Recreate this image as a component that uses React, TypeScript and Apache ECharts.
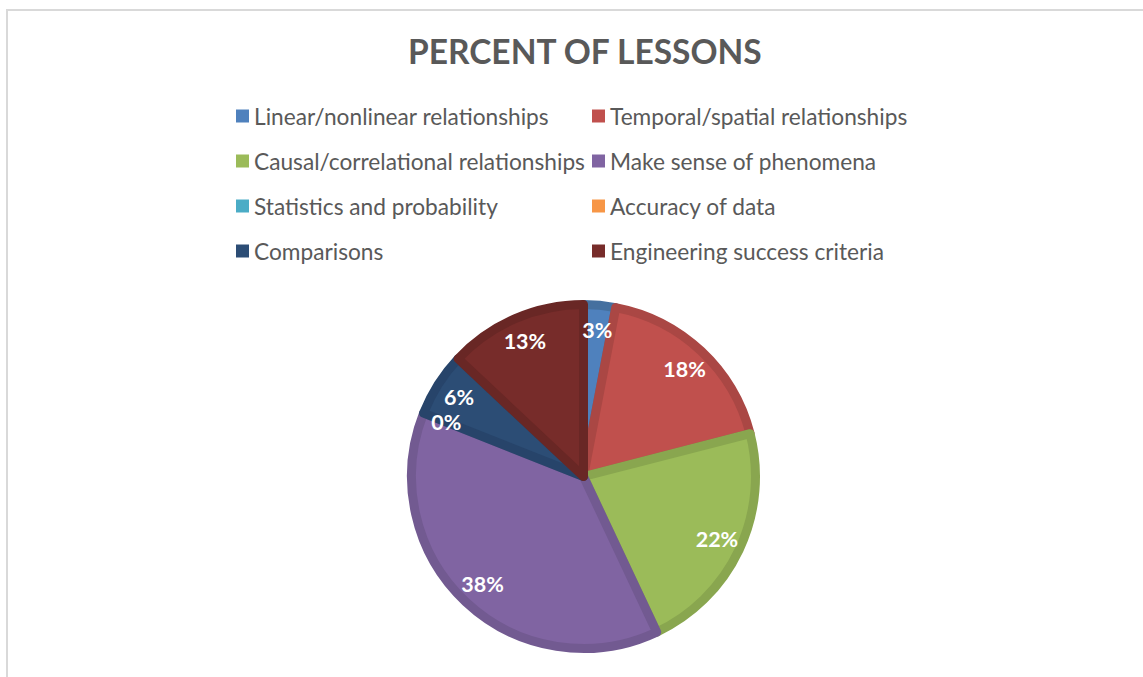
import React, { useEffect, useRef } from "react";
import * as echarts from "echarts";

const categories = [
  "Linear/nonlinear relationships",
  "Temporal/spatial relationships",
  "Causal/correlational relationships",
  "Make sense of phenomena",
  "Statistics and probability",
  "Accuracy of data",
  "Comparisons",
  "Engineering success criteria",
];
const percents = [3, 18, 22, 38, 0, 0, 6, 13];
const fillColors = ["#4F81BD", "#C0504D", "#9BBB59", "#8064A2", "#4BACC6", "#F79646", "#2C4D75", "#772C2A"];
const borderColors = ["#45709F", "#AA4744", "#89A64F", "#725A91", "#4298AF", "#DB8540", "#27446A", "#692725"];
const leftLegend = [0, 2, 4, 6];
const rightLegend = [1, 3, 5, 7];

export default function App() {
  const ref = useRef<HTMLDivElement>(null);
  useEffect(() => {
    const chart = echarts.init(ref.current!, undefined, { renderer: "svg" });
    const font = "Lato, 'Open Sans', sans-serif";
    const legendBase = {
      orient: "vertical" as const,
      icon: "rect",
      itemWidth: 13,
      itemHeight: 13,
      itemGap: 21,
      top: 104,
      padding: 0,
      itemStyle: { borderWidth: 0 },
      textStyle: { color: "#595959", fontSize: 22.7, fontFamily: font, lineHeight: 24 },
      selectedMode: false,
    };
    chart.setOption({
      animation: false,
      backgroundColor: "#fff",
      title: {
        text: "PERCENT OF LESSONS",
        left: 403,
        top: 29,
        textStyle: { color: "#595959", fontSize: 33.5, fontWeight: "bold", fontFamily: font },
      },
      graphic: [
        {
          type: "rect",
          shape: { x: 7, y: 10, width: 1200, height: 700 },
          style: { fill: "none", stroke: "#D9D9D9", lineWidth: 2 },
          silent: true,
        },
      ],
      legend: [
        { ...legendBase, left: 236, data: leftLegend.map((i) => categories[i]) },
        { ...legendBase, left: 592, data: rightLegend.map((i) => categories[i]) },
      ],
      series: [
        {
          type: "pie",
          center: [583.5, 476.5],
          radius: [0, 172],
          startAngle: 90,
          clockwise: true,
          silent: true,
          label: { show: false },
          labelLine: { show: false },
          data: categories.map((name, i) => ({
            name,
            value: percents[i],
            itemStyle: {
              color: fillColors[i],
              borderColor: borderColors[i],
              borderWidth: percents[i] === 0 ? 0 : 9,
              borderJoin: "round",
            },
          })),
        },
        {
          type: "pie",
          center: [583.5, 476.5],
          radius: [112, 177],
          startAngle: 90,
          clockwise: true,
          silent: true,
          itemStyle: { color: "rgba(0,0,0,0)", borderWidth: 0 },
          labelLine: { show: false },
          label: {
            show: true,
            position: "inside",
            formatter: (p: any) => `${percents[p.dataIndex]}%`,
            color: "#fff",
            fontSize: 21.5,
            fontWeight: "bold",
            fontFamily: font,
          },
          data: categories.map((_, i) => ({ value: percents[i], name: "" })),
        },
      ],
    });
    return () => chart.dispose();
  }, []);
  return (
    <div
      ref={ref}
      style={{ position: "fixed", left: 0, top: 0, width: 1143, height: 677 }}
    />
  );
}
